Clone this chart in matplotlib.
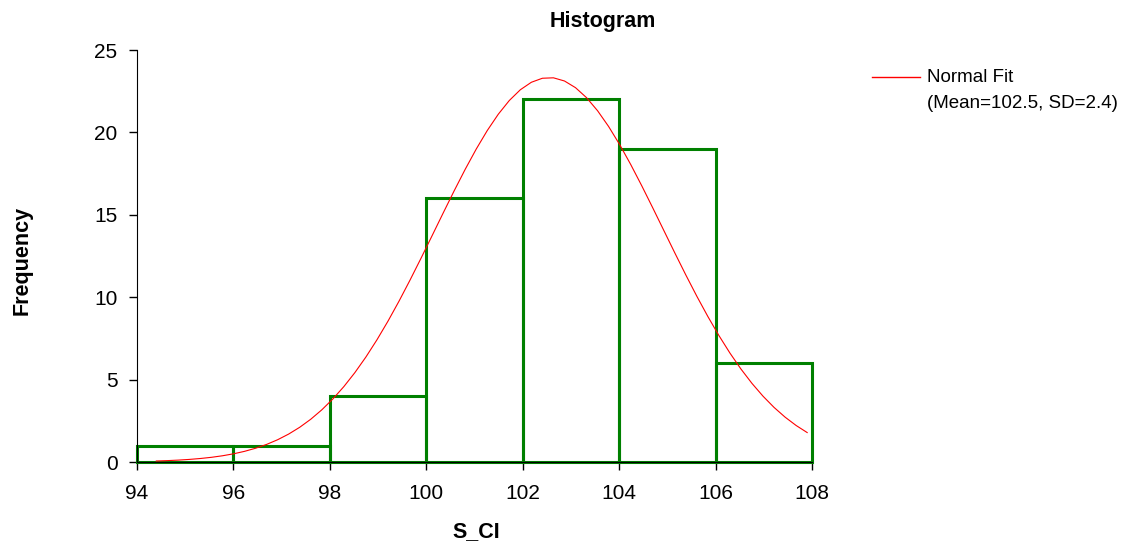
import numpy as np
import matplotlib.pyplot as plt
from matplotlib.lines import Line2D

plt.rcParams['font.family'] = ['Liberation Sans', 'DejaVu Sans']

# histogram data
bin_edges = [94, 96, 98, 100, 102, 104, 106, 108]
counts = [1, 1, 4, 16, 22, 19, 6]

# normal fit parameters (as drawn)
fit_mean = 102.55
fit_sd = 2.36
fit_range = [94.4, 107.9]

W, H = 1126, 545
fig = plt.figure(figsize=(W / 100, H / 100), dpi=100)
ax = fig.add_axes([137 / W, 1 - 462 / H, (812 - 137) / W, (462 - 50) / H])

widths = np.diff(bin_edges)
bars = ax.bar(bin_edges[:-1], counts, width=widths, align='edge', fill=False,
              edgecolor='#008000', linewidth=2.2, zorder=2)
for b in bars:
    b.set_clip_on(False)

n = sum(counts)
xs = np.linspace(fit_range[0], fit_range[1], 60)
ys = n * widths[0] / (fit_sd * np.sqrt(2 * np.pi)) * np.exp(-0.5 * ((xs - fit_mean) / fit_sd) ** 2)
ax.plot(xs, ys, color='red', linewidth=0.8, zorder=3)

ax.set_xlim(94, 108)
ax.set_ylim(0, 25)
ax.set_xticks(bin_edges)
ax.set_yticks([0, 5, 10, 15, 20, 25])
ax.spines['top'].set_visible(False)
ax.spines['right'].set_visible(False)
ax.tick_params(direction='out', length=6, width=1, labelsize=15, colors='black')
ax.tick_params(axis='x', pad=10)
ax.tick_params(axis='y', pad=8)

fig.text(603 / W, 1 - 21 / H, 'Histogram', fontsize=15.5, fontweight='bold',
         ha='center', va='center')
fig.text(476 / W, 1 - 532 / H, 'S_CI', fontsize=15.5, fontweight='bold',
         ha='center', va='center')
fig.text(22 / W, 1 - 260 / H, 'Frequency', rotation=90, fontsize=15.5, fontweight='bold',
         ha='center', va='center')

# legend
fig.add_artist(Line2D([872 / W, 920 / W], [1 - 77 / H, 1 - 77 / H],
                      color='red', linewidth=1))
fig.text(927 / W, 1 - 78 / H, 'Normal Fit', fontsize=13.5, va='center', ha='left')
fig.text(927 / W, 1 - 103 / H, '(Mean=102.5, SD=2.4)', fontsize=13.5, va='center', ha='left')

fig.savefig('out.png', dpi=100)
